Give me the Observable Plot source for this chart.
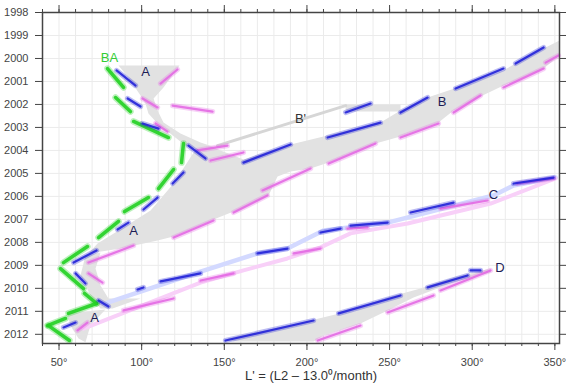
<!DOCTYPE html>
<html><head><meta charset="utf-8">
<script src="https://cdn.jsdelivr.net/npm/d3@7"></script>
<script src="https://cdn.jsdelivr.net/npm/@observablehq/plot@0.6"></script>
<style>html,body{margin:0;padding:0;background:#fff;}</style>
</head><body><div id="chart"></div>
<script>
// Tick values
const lonTens = d3.range(40, 351, 10);
const lonFifties = [50, 100, 150, 200, 250, 300, 350];
const years = d3.range(1998, 2013);

// Gray band polygons [longitude, year]
const funnelA = [[86.0,2000.31],[122.9,2000.31],[113.2,2001.26],[107.2,2001.74],[109.6,2002.26],[113.2,2002.79],[123.5,2003.26],[135.6,2003.66],[144.7,2003.87],[133.8,2003.96],[126.5,2003.79],[109.6,2002.83],[104.1,2002.39],[102.3,2001.96],[99.3,2001.61],[92.0,2000.83]];
const mainAB = [[133.8,2003.83],[144.7,2003.92],[161.6,2004.39],[190.1,2003.74],[212.5,2003.35],[244.5,2002.79],[256.6,2002.26],[273.0,2001.70],[291.1,2001.26],[318.9,2000.52],[326.2,2000.22],[343.2,1999.57],[352.8,1999.22],[352.8,1999.87],[343.2,2000.44],[318.9,2001.18],[305.0,2001.65],[288.7,2002.26],[279.6,2002.79],[256.6,2003.39],[241.5,2003.70],[213.1,2004.53],[202.2,2004.79],[190.1,2004.92],[182.2,2005.13],[176.8,2005.96],[155.6,2006.66],[143.5,2007.00],[119.3,2007.74],[109.6,2007.92],[87.2,2008.27],[67.8,2008.48],[73.3,2008.05],[89.0,2007.35],[105.4,2006.61],[119.3,2005.44]];
const stripB = [[223.4,2002.0],[256.6,2002.0],[256.6,2002.31],[223.4,2002.31]];
const zigA = [[66.0,2008.57],[75.1,2008.44],[72.1,2009.14],[75.1,2009.88],[79.9,2010.44],[99.3,2010.44],[82.4,2010.88],[75.1,2010.88],[69.0,2010.31],[63.0,2009.44]];
const lowA = [[55.1,2011.09],[78.1,2010.92],[69.0,2011.62],[66.0,2012.35],[61.8,2012.18],[56.9,2011.62]];
const bandD = [[151.9,2012.18],[202.2,2011.40],[222.1,2011.05],[248.8,2010.40],[268.7,2010.01],[288.7,2009.53],[311.1,2009.14],[311.1,2009.31],[288.7,2009.75],[264.5,2010.40],[248.8,2010.96],[232.4,2011.53],[210.0,2012.05],[204.0,2012.31],[155.6,2012.31]];

// Thin tracks
const bPrime = [[145.9,2003.79],[223.4,2002.05]];
const cBlue = [[79.3,2010.62],[135.6,2009.27],[170.1,2008.48],[188.2,2008.27],[210.0,2007.48],[220.3,2007.40],[248.8,2007.14],[312.9,2005.96],[325.0,2005.53],[350.4,2005.18]];
const cPink = [[64.8,2011.75],[135.6,2009.75],[161.6,2009.22],[188.2,2008.70],[208.2,2008.22],[226.4,2007.61],[260.9,2007.18],[311.1,2006.31],[350.4,2005.22]];

// Feature clusters [lon1, year1, lon2, year2]
const greenClusters = [[79.3,2000.44,89.0,2001.26],[84.2,2001.70,93.2,2002.31],[95.1,2002.74,116.2,2003.44],[125.3,2003.70,124.1,2004.53],[110.2,2005.66,119.3,2004.83],[89.6,2006.66,104.1,2006.05],[73.9,2007.79,86.0,2007.09],[52.7,2008.88,67.2,2008.18],[50.9,2009.14,64.8,2010.01],[65.4,2010.22,72.7,2010.66],[72.7,2010.66,55.7,2011.09],[43.0,2011.62,53.9,2011.31],[43.6,2011.62,56.3,2012.27]];
const blueClusters = [[84.8,2000.52,96.3,2001.18],[91.5,2001.74,99.3,2002.09],[100.5,2002.83,110.2,2003.05],[128.3,2003.79,138.6,2004.35],[118.7,2005.44,125.3,2004.96],[101.1,2006.57,109.6,2006.05],[85.4,2007.44,92.0,2007.14],[58.8,2008.88,72.7,2008.35],[60.0,2009.35,66.0,2009.79],[73.9,2010.53,79.9,2010.79],[52.7,2011.70,60.0,2011.49],
  [161.6,2004.53,190.1,2003.74],[212.5,2003.44,244.5,2002.79],[223.4,2002.35,238.5,2001.96],[256.6,2002.35,273.0,2001.70],[289.9,2001.31,318.9,2000.44],[326.2,2000.22,343.2,1999.52],
  [97.5,2010.05,101.1,2009.96],[111.4,2009.70,135.6,2009.35],[170.1,2008.48,188.2,2008.27],[208.2,2007.57,220.3,2007.40],[226.4,2007.27,248.8,2007.14],[262.7,2006.70,288.7,2006.27],[325.0,2005.44,349.2,2005.18],
  [150.7,2012.27,204.0,2011.40],[219.1,2011.09,256.6,2010.31],[273.0,2009.96,297.2,2009.44],[299.0,2009.22,305.0,2009.22]];
const magentaClusters = [[111.4,2001.09,121.7,2000.48],[100.5,2001.74,109.6,2002.13],[118.7,2002.05,142.9,2002.31],[108.4,2002.83,115.6,2003.18],[133.8,2004.00,151.9,2003.79],[141.7,2004.44,161.6,2004.09],[173.1,2005.74,202.2,2004.79],[155.6,2006.70,176.1,2005.96],[213.1,2004.57,241.5,2003.70],[256.6,2003.44,279.6,2002.83],[288.7,2002.35,305.0,2001.61],[318.9,2001.26,343.2,2000.44],[344.4,2000.18,352.2,1999.87],
  [119.3,2007.79,143.5,2007.05],[67.8,2008.88,95.1,2008.14],[67.8,2009.35,76.3,2009.75],[61.2,2011.83,67.2,2011.49],
  [89.0,2010.96,119.3,2010.44],[135.6,2009.66,155.6,2009.35],[191.9,2008.48,208.2,2008.27],[224.6,2007.40,236.7,2007.35],[280.8,2006.53,309.3,2006.18],[327.4,2005.44,349.2,2005.22],
  [206.5,2012.27,232.4,2011.62],[248.8,2011.05,276.6,2010.31],[280.8,2010.09,311.1,2009.22]];

// Text labels
const labelText = ["BA","A","A","A","B'","B","C","D"];
const labelLon  = [80.5,102.3,95.1,71.5,196.1,281.7,312.9,316.8];
const labelYear = [1999.99,2000.59,2007.50,2011.27,2002.63,2001.89,2005.94,2009.09];
const labelKind = ["green","dark","dark","dark","gray","dark","dark","dark"];
const xLabel = "L' = (L2 \u2013 13.0\u2070/month)";

// Build tables
const polyRows = [];
[["funnelA",funnelA],["mainAB",mainAB],["stripB",stripB],["zigA",zigA],["lowA",lowA],["bandD",bandD]]
  .forEach(([name, pts]) => pts.forEach(([x,y]) => polyRows.push({name, x, y})));
const segs = arr => arr.map(([x1,y1,x2,y2]) => ({x1,y1,x2,y2}));
const labels = labelText.map((t,i) => ({text:t, x:labelLon[i], y:labelYear[i], kind:labelKind[i]}));
const labelColor = {green:"#33cc33", dark:"#1c1c55", gray:"#333333"};

const clusterMarks = (data, color, w) => [
  Plot.link(segs(data), {x1: "x1", y1: "y1", x2: "x2", y2: "y2", stroke: color, strokeWidth: w + 3, strokeOpacity: 0.3, strokeLinecap: "round"}),
  Plot.link(segs(data), {x1: "x1", y1: "y1", x2: "x2", y2: "y2", stroke: color, strokeWidth: w, strokeOpacity: 0.9, strokeLinecap: "round"})
];

const noLabel = () => "";
const chart = Plot.plot({
  width: 566, height: 387,
  marginLeft: 42, marginRight: 7, marginTop: 12, marginBottom: 44,
  style: {fontFamily: "'Liberation Sans', Arial, sans-serif", fontSize: "11px", color: "#333", background: "#fff"},
  x: {domain: [40, 352.8]},
  y: {domain: [2012.4, 1998]},
  marks: [
    Plot.gridX(lonTens, {stroke: "#ebebeb", strokeOpacity: 1}),
    Plot.gridY(years, {stroke: "#ebebeb", strokeOpacity: 1}),
    Plot.line(polyRows, {x: "x", y: "y", z: "name", fill: "#e2e2e2", stroke: "none"}),
    Plot.line(bPrime, {x: d => d[0], y: d => d[1], stroke: "#d6d6d6", strokeWidth: 3}),
    Plot.line(cBlue, {x: d => d[0], y: d => d[1], stroke: "#d3d9ff", strokeWidth: 4.5}),
    Plot.line(cPink, {x: d => d[0], y: d => d[1], stroke: "#f8d0f8", strokeWidth: 4}),
    ...clusterMarks(greenClusters, "#22d022", 3.5),
    ...clusterMarks(magentaClusters, "#e36ae3", 2.2),
    ...clusterMarks(blueClusters, "#2222d8", 2.2),
    Plot.text(labels, {x: "x", y: "y", text: "text", fill: d => labelColor[d.kind], fontSize: 13}),
    Plot.axisX(lonTens, {anchor: "bottom", tickSize: 3, tickFormat: noLabel, label: null, color: "#444"}),
    Plot.axisX(lonFifties, {anchor: "bottom", tickSize: 7, tickPadding: 8, tickFormat: d => d + "\u00b0", label: null, color: "#444", fontSize: 11}),
    Plot.axisX(lonTens, {anchor: "top", tickSize: 4, tickFormat: noLabel, label: null, color: "#444"}),
    Plot.axisX(lonFifties, {anchor: "top", tickSize: 8, tickFormat: noLabel, label: null, color: "#444"}),
    Plot.axisY(years, {anchor: "left", tickSize: 7, tickPadding: 7, tickFormat: d => String(d), label: null, color: "#444", fontSize: 11}),
    Plot.axisY(years, {anchor: "right", tickSize: 7, tickFormat: noLabel, label: null, color: "#444"}),
    Plot.frame({stroke: "#444", strokeWidth: 1.5}),
    Plot.text([xLabel], {frameAnchor: "bottom", dy: 36, dx: 10, fontSize: 13, fill: "#333"})
  ]
});
document.getElementById("chart").appendChild(chart);
</script>
</body></html>
